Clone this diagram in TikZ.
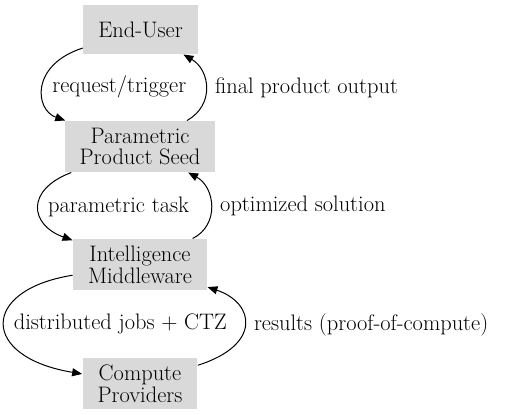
\documentclass[tikz,border=0pt]{standalone}
\usetikzlibrary{arrows.meta}
\definecolor{fillcol}{rgb}{0.85,0.85,0.85}
\begin{document}
\begin{tikzpicture}[>={Triangle[length=10bp,width=8bp]},line join=bevel,
  box/.style={rectangle,fill=fillcol,inner xsep=15bp,inner ysep=2bp,
    minimum height=51bp,align=center,font=\fontsize{22.5}{22}\selectfont},
  elabel/.style={anchor=west,inner sep=0pt,xshift=9bp,
    font=\fontsize{22.5}{22}\selectfont}]
  \pgfsetlinewidth{1bp}
  \useasboundingbox (0bp,0bp) rectangle (510bp,415bp);
%%
  % Node: eu
  \node [box,minimum height=49bp] (eu) at (140.5bp,385.5bp) {End-User};
  % Node: pps
  \node [box] (pps) at (140bp,268.5bp) {Parametric\\Product Seed};
  % Node: im
  \node [box] (im) at (140bp,150.5bp) {Intelligence\\Middleware};
  % Node: cp
  \node [box] (cp) at (140bp,31.5bp) {Compute\\Providers};
%%
  % Edge: eu -> pps
  \draw [->] (eu) .. controls (30bp,350bp) and (35bp,305bp) .. (pps)
    node [elabel,pos=0.5] {request/trigger};
  % Edge: pps -> eu
  \draw [->] (pps) .. controls (215bp,310bp) and (210bp,345bp) .. (eu)
    node [elabel,pos=0.5] {final product output};
  % Edge: pps -> im
  \draw [->] (pps) .. controls (25bp,225bp) and (30bp,190bp) .. (im)
    node [elabel,pos=0.5] {parametric task};
  % Edge: im -> pps
  \draw [->] (im) .. controls (220bp,190bp) and (215bp,228bp) .. (pps)
    node [elabel,pos=0.5] {optimized solution};
  % Edge: im -> cp
  \draw [->] (im) .. controls (-20bp,125bp) and (-20bp,58bp) .. (cp)
    node [elabel,pos=0.5] {distributed jobs + CTZ};
  % Edge: cp -> im
  \draw [->] (cp) .. controls (262bp,70bp) and (255bp,112bp) .. (im)
    node [elabel,pos=0.5] {results (proof-of-compute)};
%
\end{tikzpicture}
\end{document}
